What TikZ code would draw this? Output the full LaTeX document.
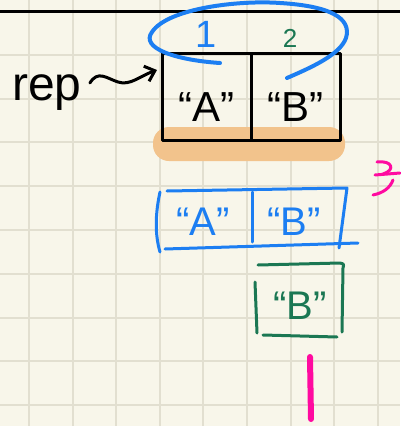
\documentclass[tikz,border=0pt]{standalone}
\usepackage{fontspec}
\setmainfont{Liberation Sans}
\usetikzlibrary{positioning,calc}
\usetikzlibrary{arrows.meta}
\definecolor{NoteBg}{RGB}{248,246,234}
\definecolor{GridLine}{RGB}{226,223,208}
\definecolor{PenBlue}{RGB}{28,126,242}
\definecolor{PenGreen}{RGB}{27,119,83}
\definecolor{PenPink}{RGB}{255,10,160}
\definecolor{HiOrange}{RGB}{242,195,140}
\tikzset{
	ink/.style={line width=3pt,line cap=round,line join=round},
	cell/.style={draw=black,ink,minimum width=89pt,minimum height=87pt,inner sep=0pt,outer sep=0pt,
		text height=50pt,text depth=0pt,font=\fontsize{42}{44}\selectfont},
	hand/.style={inner sep=0pt,font=\fontsize{40}{42}\selectfont},
}

\begin{document}
\begin{tikzpicture}[x=1pt,y=-1pt]
	\fill[NoteBg] (0,0) rectangle (400,426);
	\useasboundingbox (0,0) rectangle (400,426);
	\foreach \k in {0,...,8} {
		\draw[GridLine,line width=2pt] (29+43.6*\k,0) -- (29+43.6*\k,426);
		\draw[GridLine,line width=2pt] (0,54.8+43.8*\k) -- (400,54.8+43.8*\k);
	}
	\draw[line width=3pt] (0,11) -- (400,11);
	% highlighted pair
	\fill[HiOrange,rounded corners=16pt] (153,127) rectangle (345,161);
	\node[cell] (cellA) at (206.5,96.5) {“A”};
	\node[cell,right=0pt of cellA] (cellB) {“B”};
	\node[inner sep=0pt,font=\fontsize{48}{50}\selectfont] (rep) at (47,93) {rep};
	\draw[ink,-{Straight Barb[length=9pt,width=16pt]}] ($(rep.east)+(8,-10)$)
		.. controls (98,70) and (106,78) .. (118,82)
		.. controls (130,86) and (140,76) .. ($(cellA.north west)+(-5,17)$);
	% indices
	\node[hand,PenBlue,font=\fontsize{38}{40}\selectfont,above=5pt of cellA] (idxA) {1};
	\node[hand,PenGreen,font=\fontsize{26}{28}\selectfont] (idxB) at (290,38) {2};
	\draw[PenBlue,line width=4pt,line cap=round] (220,63)
		.. controls (175,60) and (140,48) .. (152,32)
		.. controls (168,8) and (240,0) .. (280,3)
		.. controls (330,6) and (352,18) .. (346,38)
		.. controls (340,55) and (310,68) .. (287,78);
	% copied tuple
	\node[hand,PenBlue] (bluA) at (203,222) {“A”};
	\node[hand,PenBlue] (bluB) at (294,222) {“B”};
	\draw[PenBlue,ink] (160,192) .. controls (155,215) and (155,235) .. (160,252);
	\draw[PenBlue,ink] (167,191) -- (347,188) -- (339,248);
	\draw[PenBlue,ink] (165,249) -- (358,243);
	\draw[PenBlue,ink] (252,192) -- (252,242);
	% single item
	\node[hand,PenGreen] (grnB) at (300,306) {“B”};
	\draw[PenGreen,ink] (258,265) -- (340,263) .. controls (344,264) .. (343,268) -- (342,332);
	\draw[PenGreen,ink] (263,335) -- (337,337);
	\draw[PenGreen,ink] (255,282) -- (257,333);
	% pink marks
	\draw[PenPink,line width=6pt,line cap=round] (310,357) -- (311,419);
	\draw[PenPink,ink] (377,162) .. controls (392,160) and (396,170) .. (383,174);
	\draw[PenPink,ink] (375,175) -- (400,173);
	\draw[PenPink,ink] (393,180) .. controls (390,188) and (383,193) .. (373,195);
\end{tikzpicture}
\end{document}
